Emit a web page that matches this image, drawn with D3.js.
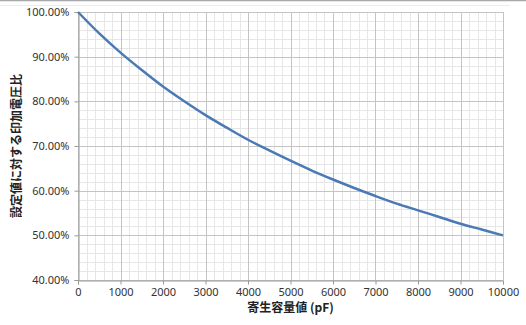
<!DOCTYPE html>
<html>
<head>
<meta charset="utf-8">
<script src="https://cdn.jsdelivr.net/npm/d3@7"></script>
<style>
  body { margin: 0; background: #fff; }
  text { font-family: "Noto Sans CJK JP", "Noto Sans", sans-serif; }
</style>
</head>
<body>
<div id="chart"></div>
<script>
// data
const capacitance = [0, 500, 1000, 1500, 2000, 2500, 3000, 3500, 4000, 4500, 5000,
  5500, 6000, 6500, 7000, 7500, 8000, 8500, 9000, 9500, 10000];
const voltageRatio = [1.000, 0.952, 0.909, 0.870, 0.833, 0.800, 0.769, 0.741, 0.714, 0.690, 0.667,
  0.645, 0.625, 0.606, 0.588, 0.571, 0.556, 0.541, 0.526, 0.513, 0.500];
const xTicks = [0, 1000, 2000, 3000, 4000, 5000, 6000, 7000, 8000, 9000, 10000];
const yTicks = [0.4, 0.5, 0.6, 0.7, 0.8, 0.9, 1.0];
const xLabel = "寄生容量値 (pF)";
const yLabel = "設定値に対する印加電圧比";

const w = 526, h = 325;
const margin = {top: 12, right: 23, bottom: 45, left: 78};

const svg = d3.select("#chart").append("svg")
  .attr("width", w)
  .attr("height", h);

// frame lines at the top of the picture
svg.append("line").attr("x1", 0).attr("x2", w).attr("y1", 0.5).attr("y2", 0.5)
  .attr("stroke", "#a8a8a8").attr("stroke-width", 1.5);
svg.append("line").attr("x1", 0).attr("x2", 510).attr("y1", 5.5).attr("y2", 5.5)
  .attr("stroke", "#ececec");

const x = d3.scaleLinear().domain([0, 10000]).range([margin.left, w - margin.right]);
const y = d3.scaleLinear().domain([0.4, 1.0]).range([h - margin.bottom, margin.top]);

// minor grid
const g = svg.append("g");
g.selectAll(".vminor")
  .data(d3.range(0, 10001, 200))
  .join("line")
  .attr("x1", d => Math.round(x(d)) + 0.5).attr("x2", d => Math.round(x(d)) + 0.5)
  .attr("y1", y(0.4)).attr("y2", y(1.0))
  .attr("stroke", "#e6e6e6");
g.selectAll(".hminor")
  .data(d3.range(40, 101, 2).map(d => d / 100))
  .join("line")
  .attr("x1", x(0)).attr("x2", x(10000))
  .attr("y1", d => Math.round(y(d)) + 0.5).attr("y2", d => Math.round(y(d)) + 0.5)
  .attr("stroke", "#e6e6e6");

// major grid
svg.append("g").selectAll("line")
  .data(xTicks)
  .join("line")
  .attr("x1", d => Math.round(x(d)) + 0.5).attr("x2", d => Math.round(x(d)) + 0.5)
  .attr("y1", y(0.4)).attr("y2", y(1.0))
  .attr("stroke", "#c4c4c4");
svg.append("g").selectAll("line")
  .data(yTicks)
  .join("line")
  .attr("x1", x(0)).attr("x2", x(10000))
  .attr("y1", d => Math.round(y(d)) + 0.5).attr("y2", d => Math.round(y(d)) + 0.5)
  .attr("stroke", "#c4c4c4");

// axes
const xAxis = d3.axisBottom(x).tickValues(xTicks).tickSize(4).tickPadding(4).tickFormat(d3.format("d"));
const yAxis = d3.axisLeft(y).tickValues(yTicks).tickSize(4).tickPadding(5).tickFormat(d3.format(".2%"));

const gx = svg.append("g")
  .attr("transform", `translate(0,${Math.round(y(0.4)) + 0.5})`)
  .call(xAxis);
const gy = svg.append("g")
  .attr("transform", `translate(${Math.round(x(0)) + 0.5},0)`)
  .call(yAxis);

[gx, gy].forEach(a => {
  a.select(".domain").attr("stroke", "#9a9a9a");
  a.selectAll(".tick line").attr("stroke", "#9a9a9a");
  a.selectAll(".tick text")
    .attr("fill", "#333")
    .style("font-size", "11px")
    .style("font-family", "\"Noto Sans\", sans-serif");
});

// the curve
const line = d3.line()
  .x((d, i) => x(capacitance[i]))
  .y(d => y(d))
  .curve(d3.curveMonotoneX);

svg.append("path")
  .datum(voltageRatio)
  .attr("d", line)
  .attr("fill", "none")
  .attr("stroke", "#4a7ab4")
  .attr("stroke-width", 2.5);

// axis titles
svg.append("text")
  .attr("x", (x(0) + x(10000)) / 2)
  .attr("y", 312)
  .attr("text-anchor", "middle")
  .attr("font-size", 12)
  .attr("font-weight", "bold")
  .attr("fill", "#222")
  .text(xLabel);

svg.append("text")
  .attr("transform", `translate(21,${(y(0.4) + y(1.0)) / 2}) rotate(-90)`)
  .attr("text-anchor", "middle")
  .attr("font-size", 12)
  .attr("font-weight", "bold")
  .attr("fill", "#222")
  .text(yLabel);
</script>
</body>
</html>
